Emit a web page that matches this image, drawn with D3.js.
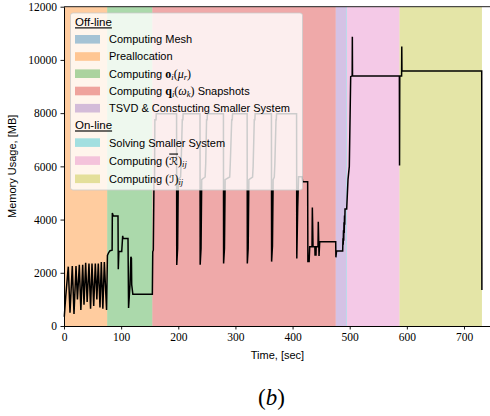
<!DOCTYPE html>
<html>
<head>
<meta charset="utf-8">
<script src="https://cdn.jsdelivr.net/npm/d3@7"></script>
<style>
  body { margin: 0; background: #fff; }
  svg { display: block; }
</style>
</head>
<body>
<svg id="chart" width="490" height="416"></svg>
<script>
// ---- data -------------------------------------------------------------
const phaseNames = [
  "Computing Mesh", "Preallocation", "Computing o_i(mu_r)",
  "Computing q_i(omega_k) Snapshots", "TSVD & Constucting Smaller System",
  "Solving Smaller System", "Computing (R)_ij", "Computing (I)_ij"
];
const phaseGroup = ["Off-line", "Off-line", "Off-line", "Off-line", "Off-line",
                    "On-line", "On-line", "On-line"];
const phaseStart = [0, 0.6, 75.6, 154.6, 475.6, 494.2, 495.2, 587.1];
const phaseEnd   = [0.6, 75.6, 154.6, 475.6, 494.2, 495.2, 587.1, 731.4];

// memory trace, seconds / megabytes
const timeSec = [
  0.5, 3, 7.5, 10.5, 14.5, 17.5, 21, 23.5, 26.8, 29.5, 32.7, 35, 37.9, 40.5,
  43.7, 46.5, 49, 52, 54.8, 57.5, 60, 63, 65.3, 68, 70.6, 74.5,
  76, 78, 80.5, 84.2, 84.6, 86.3, 94.5, 95, 96, 101, 102.7, 103.5, 112, 113,
  115.5, 117, 118, 118.5, 120.5, 154.6,
  155.3, 156.3, 157.5, 158.5, 159, 161, 161.5, 197,
  197.3, 198.8, 200, 204, 205, 207, 208, 208.5, 238,
  238.3, 239.8, 241, 247, 248, 249.5, 250.5, 251, 279,
  279.3, 280.8, 282, 290, 291, 293.5, 294.5, 295, 320.5,
  320.8, 322.3, 323.5, 330, 331, 333, 334, 334.5, 363,
  363.3, 364.8, 366, 368, 369, 371, 371.5, 372, 407,
  407.4, 409, 410.5, 416.5, 417.7, 426.4, 426.8, 429, 430, 434, 434.6, 435.8,
  439, 439.3, 441, 441.3, 444.5, 445, 446.3, 447.5, 475.5, 475.8, 477, 487.7,
  488.2, 488.6, 489.1, 489.5, 490, 490.4, 490.9, 491.3, 491.8, 494.7,
  497, 499.3, 501.7, 504.3, 504.6, 504.9, 586.9, 587.2, 587.6, 590.8, 591.1,
  591.4, 731, 731.3
];
const memoryMB = [
  350, 1100, 2230, 500, 2250, 450, 2250, 1000, 2300, 600, 2300, 800, 2380, 900,
  2350, 650, 2350, 750, 2350, 1000, 2350, 700, 2400, 650, 2400, 600,
  2650, 2750, 2830, 2850, 4250, 4130, 4130, 2130, 2800, 2800, 3390, 3290, 3290, 680,
  1550, 2600, 2550, 1550, 1190, 1190,
  2790, 2850, 5500, 5600, 7750, 7750, 7980, 7980,
  2290, 2900, 5500, 5600, 6100, 7750, 7750, 7980, 7980,
  2300, 2900, 5500, 5600, 6100, 7750, 7750, 7980, 7980,
  2350, 2900, 5500, 5600, 6100, 7750, 7750, 7980, 7980,
  2350, 2900, 5500, 5600, 6000, 7750, 7750, 7980, 7980,
  2420, 3000, 5500, 5600, 6100, 7750, 7750, 7980, 7980,
  2540, 4480, 5610, 5610, 5420, 5420, 2420, 2420, 2980, 2980, 4450, 2980,
  2980, 2670, 2670, 2980, 2980, 3920, 2630, 3170, 3170, 2580, 2820, 2820,
  3300, 3050, 3600, 3200, 3900, 3500, 4150, 3800, 4400, 4400,
  5500, 6000, 9370, 9400, 10870, 9400, 9400, 6030, 9400, 9400, 10500,
  9580, 9580, 1350
];

const xTicks = [0, 100, 200, 300, 400, 500, 600, 700];
const yTicks = [0, 2000, 4000, 6000, 8000, 10000, 12000];

// ---- styling ------------------------------------------------------------
const phaseColors = ["#1f77b4", "#ff7f0e", "#2ca02c", "#d62728", "#9467bd",
                     "#17becf", "#e377c2", "#bcbd22"];
const serif = "'Liberation Serif', 'DejaVu Serif', serif";
const sans = "'Liberation Sans', 'DejaVu Sans', sans-serif";

const svg = d3.select("#chart");
const plot = { left: 64, right: 492, top: 6.7, bottom: 326 };

const x = d3.scaleLinear().domain([0, 749]).range([plot.left, plot.right]);
const y = d3.scaleLinear().domain([0, 12000]).range([plot.bottom, plot.top]);

// phase bands
svg.append("g").selectAll("rect")
  .data(phaseNames.map((n, i) => i))
  .join("rect")
  .attr("x", i => x(phaseStart[i]))
  .attr("width", i => x(phaseEnd[i]) - x(phaseStart[i]))
  .attr("y", plot.top)
  .attr("height", plot.bottom - plot.top)
  .attr("fill", i => phaseColors[i])
  .attr("fill-opacity", 0.4);

// memory trace
const series = timeSec.map((t, i) => [t, memoryMB[i]]);
svg.append("path")
  .datum(series)
  .attr("fill", "none")
  .attr("stroke", "#000")
  .attr("stroke-width", 1.5)
  .attr("d", d3.line().x(d => x(d[0])).y(d => y(d[1])));

// axes
const xAxis = svg.append("g")
  .attr("transform", `translate(0,${plot.bottom})`)
  .call(d3.axisBottom(x).tickValues(xTicks).tickSize(3.5).tickSizeOuter(0).tickPadding(3).tickFormat(d => d));
const yAxis = svg.append("g")
  .attr("transform", `translate(${plot.left},0)`)
  .call(d3.axisLeft(y).tickValues(yTicks).tickSize(3.5).tickSizeOuter(0).tickPadding(3.5).tickFormat(d => d));
[xAxis, yAxis].forEach(a => {
  a.select(".domain").attr("stroke", "#000").attr("stroke-width", 1);
  a.selectAll(".tick line").attr("stroke", "#000").attr("stroke-width", 0.9);
  a.selectAll(".tick text").attr("fill", "#000")
    .style("font-family", serif).style("font-size", "11.5px");
});
svg.append("line")
  .attr("x1", plot.left).attr("x2", plot.right)
  .attr("y1", plot.top).attr("y2", plot.top)
  .attr("stroke", "#222").attr("stroke-width", 1);

svg.append("text")
  .attr("x", (plot.left + 492) / 2 - 0.5).attr("y", 359)
  .attr("text-anchor", "middle")
  .style("font-family", sans).style("font-size", "11px")
  .text("Time, [sec]");
svg.append("text")
  .attr("transform", `translate(16,${(plot.top + plot.bottom) / 2}) rotate(-90)`)
  .attr("text-anchor", "middle")
  .style("font-family", sans).style("font-size", "11px")
  .text("Memory Usage, [MB]");

// ---- legend ----------------------------------------------------------
// label pieces: [text, kind]; kind: t = text, b = bold math, m = math italic,
// u = upright math, s = subscript, c = script letter, cb = script letter with bar
const phaseLabels = [
  [["Computing Mesh", "t"]],
  [["Preallocation", "t"]],
  [["Computing ", "t"], ["o", "b"], ["i", "s"], ["(", "u"], ["μ", "m"], ["r", "s"], [")", "u"]],
  [["Computing ", "t"], ["q", "b"], ["i", "s"], ["(", "u"], ["ω", "m"], ["k", "s"], [")", "u"], [" Snapshots", "t"]],
  [["TSVD & Constucting Smaller System", "t"]],
  [["Solving Smaller System", "t"]],
  [["Computing ", "t"], ["(", "u"], ["ℛ", "cb"], [")", "u"], ["ij", "s"]],
  [["Computing ", "t"], ["(", "u"], ["ℐ", "c"], [")", "u"], ["ij", "s"]]
];

const legend = svg.append("g");
legend.append("rect")
  .attr("x", 70.5).attr("y", 13).attr("width", 232).attr("height", 177)
  .attr("rx", 2.5)
  .attr("fill", "#fff").attr("fill-opacity", 0.8)
  .attr("stroke", "#ccc").attr("stroke-opacity", 0.8).attr("stroke-width", 1);

const rowY = [39.3, 56.5, 73.7, 91, 108.2, 142.6, 160.6, 178.8];
const headerY = { "Off-line": 22.3, "On-line": 125.4 };

Object.entries(headerY).forEach(([h, yy]) => {
  legend.append("text")
    .attr("x", 75).attr("y", yy).attr("dy", "0.35em")
    .style("font-family", sans).style("font-size", "11.5px")
    .style("text-decoration", "underline")
    .text(h);
});

phaseNames.forEach((name, i) => {
  const yy = rowY[i];
  legend.append("rect")
    .attr("x", 75).attr("y", yy - 4.3).attr("width", 25).attr("height", 8.6)
    .attr("fill", phaseColors[i]).attr("fill-opacity", 0.4);
  const t = legend.append("text")
    .attr("x", 109).attr("y", yy + 3.9)
    .style("font-family", sans).style("font-size", "11px");
  let shifted = false;
  phaseLabels[i].forEach(([txt, kind]) => {
    const sp = t.append("tspan").text(txt);
    let dy = 0;
    if (kind === "s") { if (!shifted) { dy = 2.5; shifted = true; } }
    else if (shifted) { dy = -2.5; shifted = false; }
    if (dy) sp.attr("dy", dy);
    if (kind === "b") sp.style("font-family", serif).style("font-weight", "bold").style("font-size", "12px");
    if (kind === "m") sp.style("font-family", serif).style("font-style", "italic").style("font-size", "12px");
    if (kind === "u") sp.style("font-family", serif).style("font-size", "12px");
    if (kind === "s") sp.style("font-family", serif).style("font-style", "italic").style("font-size", "8.5px");
    if (kind === "c" || kind === "cb") sp.style("font-family", "'DejaVu Sans', sans-serif").style("font-size", "11px");
    if (kind === "cb") sp.style("text-decoration", "overline");
  });
});

// panel caption
const cap = svg.append("text")
  .attr("x", 271.5).attr("y", 405)
  .attr("text-anchor", "middle")
  .style("font-family", serif).style("font-size", "23px");
cap.append("tspan").text("(");
cap.append("tspan").style("font-style", "italic").text("b");
cap.append("tspan").text(")");
</script>
</body>
</html>
